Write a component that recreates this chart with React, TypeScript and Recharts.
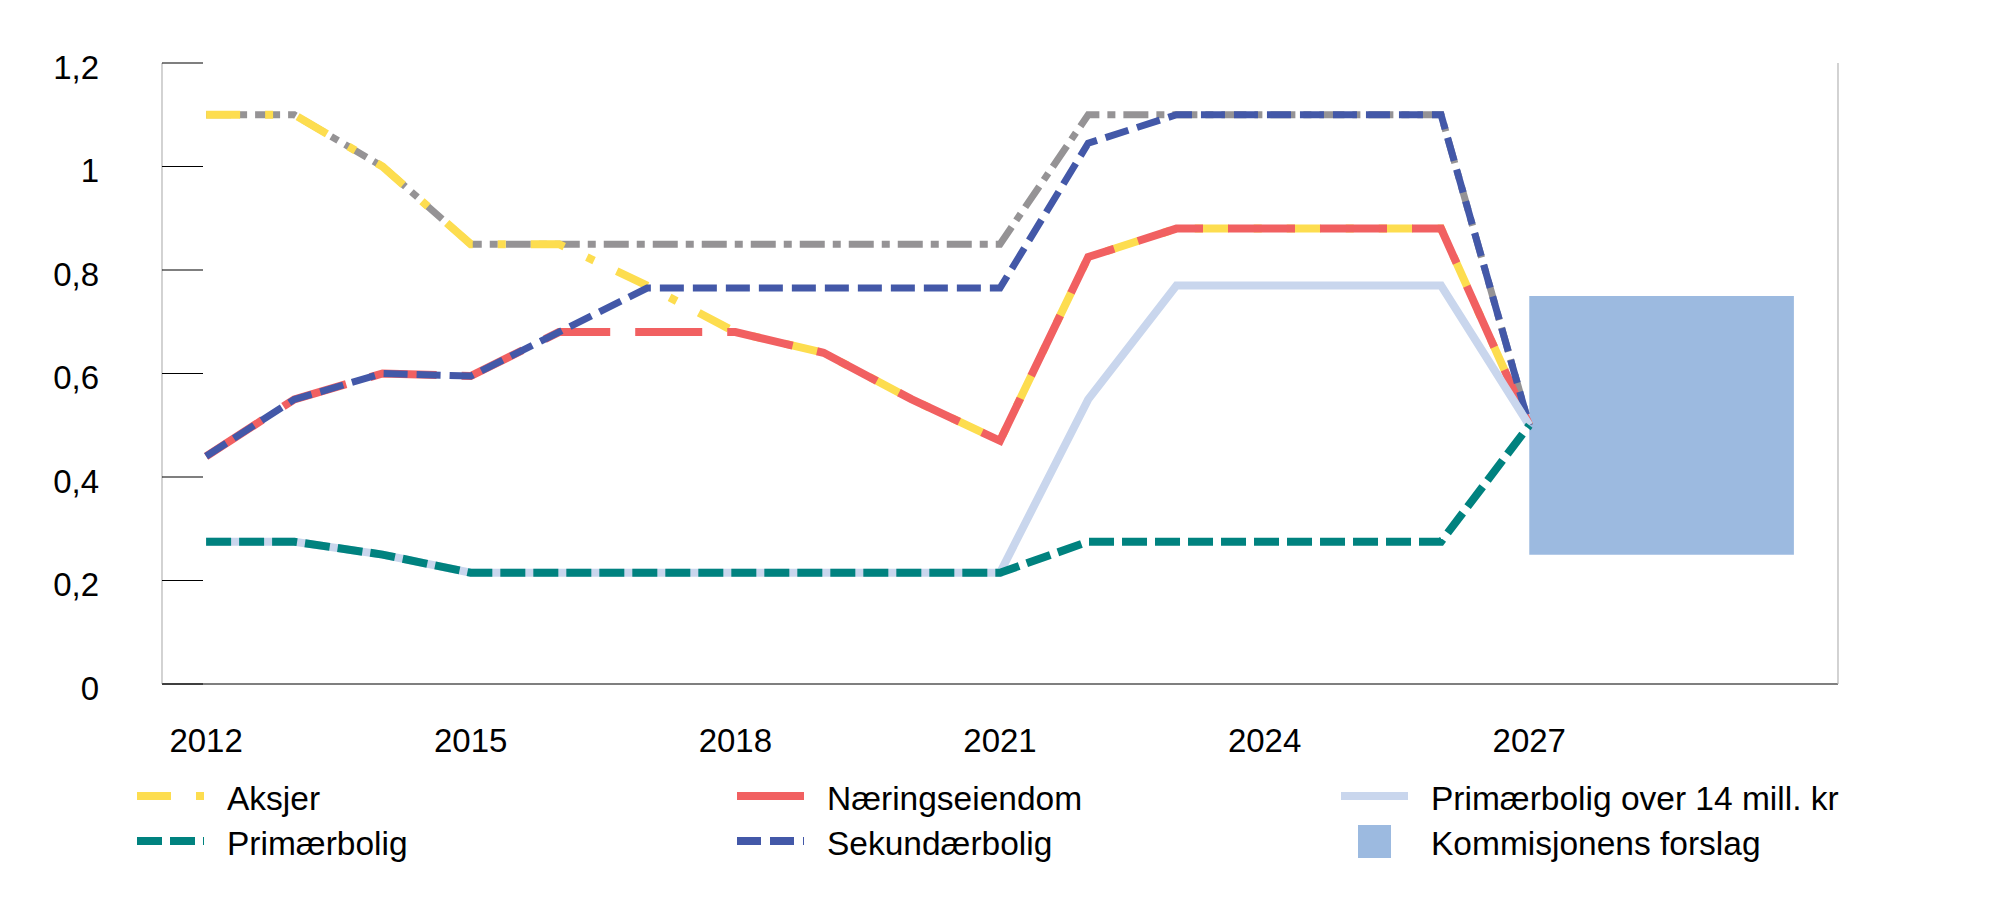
import React from 'react';
import { LineChart, Line, XAxis, YAxis, ReferenceArea } from 'recharts';

// Years on the horizontal axis (2012–2027 carry line data)
const years = [2012, 2013, 2014, 2015, 2016, 2017, 2018, 2019, 2020, 2021, 2022, 2023, 2024, 2025, 2026, 2027];
const xTicks = [2012, 2015, 2018, 2021, 2024, 2027];
const yTicks = [0, 0.2, 0.4, 0.6, 0.8, 1, 1.2];

// Series values
const aksjer = [1.1, 1.1, 1.0, 0.85, 0.85, 0.77, 0.68, 0.64, 0.55, 0.47, 0.825, 0.88, 0.88, 0.88, 0.88, 0.5];
const aksjerGrey = [1.1, 1.1, 1.0, 0.85, 0.85, 0.85, 0.85, 0.85, 0.85, 0.85, 1.1, 1.1, 1.1, 1.1, 1.1, 0.5];
const naeringseiendom = [0.44, 0.55, 0.6, 0.595, 0.68, 0.68, 0.68, 0.64, 0.55, 0.47, 0.825, 0.88, 0.88, 0.88, 0.88, 0.5];
const sekundaerbolig = [0.44, 0.55, 0.6, 0.595, 0.68, 0.765, 0.765, 0.765, 0.765, 0.765, 1.045, 1.1, 1.1, 1.1, 1.1, 0.5];
const primaerbolig = [0.275, 0.275, 0.25, 0.215, 0.215, 0.215, 0.215, 0.215, 0.215, 0.215, 0.275, 0.275, 0.275, 0.275, 0.275, 0.5];
const primaerboligOver14 = [0.275, 0.275, 0.25, 0.215, 0.215, 0.215, 0.215, 0.215, 0.215, 0.215, 0.55, 0.77, 0.77, 0.77, 0.77, 0.5];

// Commission's proposal: a range shown as a shaded block
const proposalYears = [2027, 2030];
const proposalRange = [0.25, 0.75];

const xDomain = [2011.5, 2030.5];

const data = years.map((year, i) => ({
  year,
  aksjerGrey: aksjerGrey[i],
  aksjer: aksjer[i],
  naeringseiendom: naeringseiendom[i],
  sekundaerbolig: sekundaerbolig[i],
  primaerboligOver14: primaerboligOver14[i],
  primaerbolig: primaerbolig[i],
}));

const FONT = '"Liberation Sans", Arial, sans-serif';
const TICK_SIZE = 33;
const LEGEND_SIZE = 33.5;

const C = {
  yellow: '#FDDD4F',
  grey: '#959395',
  red: '#F16061',
  blue: '#4358A8',
  teal: '#00827F',
  lightBlue: '#C9D6ED',
  proposal: '#9CBAE0',
};

const fmt = (v: number) => String(v).replace('.', ',');

const LeftTick = (props: any) => {
  const { x, y, payload } = props;
  return (
    <g>
      <line x1={x} x2={x + 41} y1={y} y2={y} stroke="#000" strokeWidth={1.2} />
      <text x={x - 63} y={y + 15.5} textAnchor="end" fontFamily={FONT} fontSize={TICK_SIZE} fill="#000">
        {fmt(payload.value)}
      </text>
    </g>
  );
};

const RightTick = (props: any) => {
  const { x, y, payload } = props;
  return (
    <g>
      <line x1={x - 42} x2={x} y1={y} y2={y} stroke="#000" strokeWidth={1.2} />
      <text x={x + 34} y={y + 15.5} textAnchor="start" fontFamily={FONT} fontSize={TICK_SIZE} fill="#000">
        {fmt(payload.value)}
      </text>
    </g>
  );
};

const BottomTick = (props: any) => {
  const { x, y, payload } = props;
  return (
    <text x={x} y={y + 68} textAnchor="middle" fontFamily={FONT} fontSize={TICK_SIZE} fill="#000">
      {payload.value}
    </text>
  );
};

type LegendItem = {
  label: string;
  color: string;
  dash?: string;
  kind: 'line' | 'box';
  col: number;
  row: number;
};

const legendItems: LegendItem[] = [
  { label: 'Aksjer', color: C.yellow, dash: '34 25 8 25', kind: 'line', col: 0, row: 0 },
  { label: 'Primærbolig', color: C.teal, dash: '25 8', kind: 'line', col: 0, row: 1 },
  { label: 'Næringseiendom', color: C.red, kind: 'line', col: 1, row: 0 },
  { label: 'Sekundærbolig', color: C.blue, dash: '24 9', kind: 'line', col: 1, row: 1 },
  { label: 'Primærbolig over 14 mill. kr', color: C.lightBlue, kind: 'line', col: 2, row: 0 },
  { label: 'Kommisjonens forslag', color: C.proposal, kind: 'box', col: 2, row: 1 },
];

const legendCols = [137, 737, 1341];
const legendRows = [798, 843];

const ChartLegend = () => (
  <svg width={2000} height={908} style={{ position: 'absolute', left: 0, top: 0, pointerEvents: 'none' }}>
    {legendItems.map((it) => {
      const x0 = legendCols[it.col];
      const cy = legendRows[it.row];
      return (
        <g key={it.label}>
          {it.kind === 'line' ? (
            <line x1={x0} x2={x0 + 67} y1={cy - 2} y2={cy - 2} stroke={it.color} strokeWidth={8} strokeDasharray={it.dash} />
          ) : (
            <rect x={x0 + 17} y={cy - 18} width={33} height={33} fill={it.color} />
          )}
          <text x={x0 + 90} y={cy + 11.5} fontFamily={FONT} fontSize={LEGEND_SIZE} fill="#000">
            {it.label}
          </text>
        </g>
      );
    })}
  </svg>
);

export default function App() {
  return (
    <div style={{ position: 'absolute', left: 0, top: 0, width: 2000, height: 908, background: '#fff' }}>
      <LineChart width={2000} height={908} data={data} margin={{ top: 63, right: 0, bottom: 0, left: 0 }}>
        <XAxis
          dataKey="year"
          type="number"
          scale="linear"
          domain={xDomain}
          ticks={xTicks}
          height={224}
          tickLine={false}
          tickSize={0}
          tickMargin={0}
          axisLine={{ stroke: '#000', strokeWidth: 1.2 }}
          tick={BottomTick}
          interval={0}
        />
        <YAxis
          yAxisId="left"
          orientation="left"
          width={162}
          domain={[0, 1.2]}
          ticks={yTicks}
          tickLine={false}
          tickSize={0}
          tickMargin={0}
          axisLine={{ stroke: '#b5b5b5', strokeWidth: 1.2 }}
          tick={LeftTick}
          interval={0}
        />
        <YAxis
          yAxisId="right"
          orientation="right"
          width={162}
          domain={[0, 1.2]}
          ticks={yTicks}
          tickLine={false}
          tickSize={0}
          tickMargin={0}
          axisLine={{ stroke: '#b5b5b5', strokeWidth: 1.2 }}
          tick={RightTick}
          interval={0}
        />
        <Line yAxisId="left" dataKey="aksjerGrey" stroke={C.grey} strokeWidth={7} strokeDasharray="25 8 8 8" dot={false} activeDot={false} legendType="none" isAnimationActive={false} />
        <Line yAxisId="left" dataKey="aksjer" name="Aksjer" stroke={C.yellow} strokeWidth={8} strokeDasharray="34 25 8 25" dot={false} activeDot={false} isAnimationActive={false} />
        <Line yAxisId="left" dataKey="naeringseiendom" name="Næringseiendom" stroke={C.red} strokeWidth={8} strokeDasharray="67 25" dot={false} activeDot={false} isAnimationActive={false} />
        <Line yAxisId="left" dataKey="sekundaerbolig" name="Sekundærbolig" stroke={C.blue} strokeWidth={7} strokeDasharray="24 9" dot={false} activeDot={false} isAnimationActive={false} />
        <Line yAxisId="left" dataKey="primaerboligOver14" name="Primærbolig over 14 mill. kr" stroke={C.lightBlue} strokeWidth={8} dot={false} activeDot={false} isAnimationActive={false} />
        <Line yAxisId="left" dataKey="primaerbolig" name="Primærbolig" stroke={C.teal} strokeWidth={8} strokeDasharray="25 8" dot={false} activeDot={false} isAnimationActive={false} />
        <ReferenceArea
          yAxisId="left"
          x1={proposalYears[0]}
          x2={proposalYears[1]}
          y1={proposalRange[0]}
          y2={proposalRange[1]}
          fill={C.proposal}
          fillOpacity={1}
          stroke="none"
          ifOverflow="visible"
        />
      </LineChart>
      <ChartLegend />
    </div>
  );
}
